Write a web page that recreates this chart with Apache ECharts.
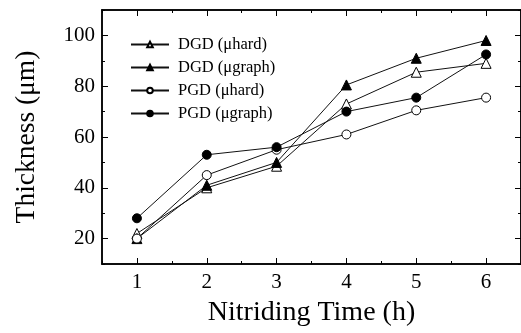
<!DOCTYPE html>
<html>
<head>
    <meta charset="utf-8" />
    <title></title>
    <script src="https://cdn.jsdelivr.net/npm/echarts@6/dist/echarts.min.js" type="text/javascript"></script>
    <style>
        html,body{
    width: 100%;
    height: 100%;
    margin: 0px;
    padding: 0px;
    background: #fff;
  }
  #main{
    width: 521px;
    height: 333px;
  }
  </style>
</head>

<body>
    <div id="main"></div>
</body>
<script type="text/javascript">
    // nitriding time (h)
    var times = [1, 2, 3, 4, 5, 6];
    var seriesNames = ['DGD (\u03bchard)', 'DGD (\u03bcgraph)', 'PGD (\u03bchard)', 'PGD (\u03bcgraph)'];
    // thickness (um)
    var dgdHard = [22, 40, 48.5, 73, 85.5, 89];
    var dgdGraph = [20, 41, 50, 80.5, 91, 98];
    var pgdHard = [20, 45, 55, 61, 70.5, 75.5];
    var pgdGraph = [28, 53, 56, 70, 75.5, 92.5];
    var xMajor = [1, 2, 3, 4, 5, 6];
    var yMajor = [20, 40, 60, 80, 100];

    var font = '"Liberation Serif", "Times New Roman", serif';
    var myChart = echarts.init(document.getElementById('main'));

    function pairs(ys) {
        return times.map(function (t, i) { return [t, ys[i]]; });
    }

    function mkSeries(name, ys, symbol, filled, size) {
        return {
            name: name,
            type: 'line',
            data: pairs(ys),
            symbol: symbol,
            symbolSize: size,
            showAllSymbol: true,
            animation: false,
            lineStyle: { color: '#111', width: 1 },
            itemStyle: {
                color: filled ? '#000' : '#fff',
                borderColor: '#000',
                borderWidth: 1
            },
            emphasis: { disabled: true }
        };
    }

    function xAx(pos, major, labels) {
        var a = {
            type: 'value',
            position: pos,
            min: 0.5,
            max: 6.5,
            axisLine: { onZero: false, lineStyle: { color: '#000', width: 1.5 } },
            splitLine: { show: false },
            axisTick: { inside: true, length: major ? 6 : 3, lineStyle: { color: '#000' } },
            axisLabel: { show: false }
        };
        if (major) {
            a.axisTick.customValues = xMajor;
            a.axisLabel = labels ? {
                show: true, customValues: xMajor, margin: 8,
                fontFamily: font, fontSize: 21, color: '#000'
            } : { show: false };
        } else {
            a.interval = 0.5;
        }
        return a;
    }

    function yAx(pos, major, labels) {
        var a = {
            type: 'value',
            position: pos,
            min: 10,
            max: 110,
            axisLine: { onZero: false, lineStyle: { color: '#000', width: 1.5 } },
            splitLine: { show: false },
            axisTick: { inside: true, length: major ? 6 : 3, lineStyle: { color: '#000' } },
            axisLabel: { show: false }
        };
        if (major) {
            a.axisTick.customValues = yMajor;
            a.axisLabel = labels ? {
                show: true, customValues: yMajor, margin: 7,
                fontFamily: font, fontSize: 21, color: '#000'
            } : { show: false };
        } else {
            a.interval = 10;
        }
        return a;
    }

    var xs = [xAx('bottom', true, true), xAx('bottom', false), xAx('top', true), xAx('top', false)];
    xs[0].name = 'Nitriding Time (h)';
    xs[0].nameLocation = 'middle';
    xs[0].nameGap = 35;
    xs[0].nameTextStyle = { fontFamily: font, fontSize: 28, color: '#000' };

    var ys = [yAx('left', true, true), yAx('left', false), yAx('right', true), yAx('right', false)];
    ys[0].name = 'Thickness (\u03bcm)';
    ys[0].nameLocation = 'middle';
    ys[0].nameGap = 61;
    ys[0].nameTextStyle = { fontFamily: font, fontSize: 27.5, color: '#000' };

    myChart.setOption({
        animation: false,
        grid: { left: 102, right: -3, top: 10, bottom: 69, containLabel: false },
        legend: {
            orient: 'vertical',
            left: 125,
            top: 31,
            itemWidth: 38,
            itemHeight: 7,
            itemGap: 6,
            selectedMode: false,
            textStyle: { fontFamily: font, fontSize: 16.5, color: '#000', padding: [0, 0, 0, 4] },
            data: seriesNames
        },
        xAxis: xs,
        yAxis: ys,
        series: [
            mkSeries(seriesNames[0], dgdHard, 'triangle', false, 10),
            mkSeries(seriesNames[1], dgdGraph, 'triangle', true, 10),
            mkSeries(seriesNames[2], pgdHard, 'circle', false, 9),
            mkSeries(seriesNames[3], pgdGraph, 'circle', true, 9)
        ]
    });

    window.addEventListener('resize', function () {
        myChart.resize();
    });
</script>

</html>
